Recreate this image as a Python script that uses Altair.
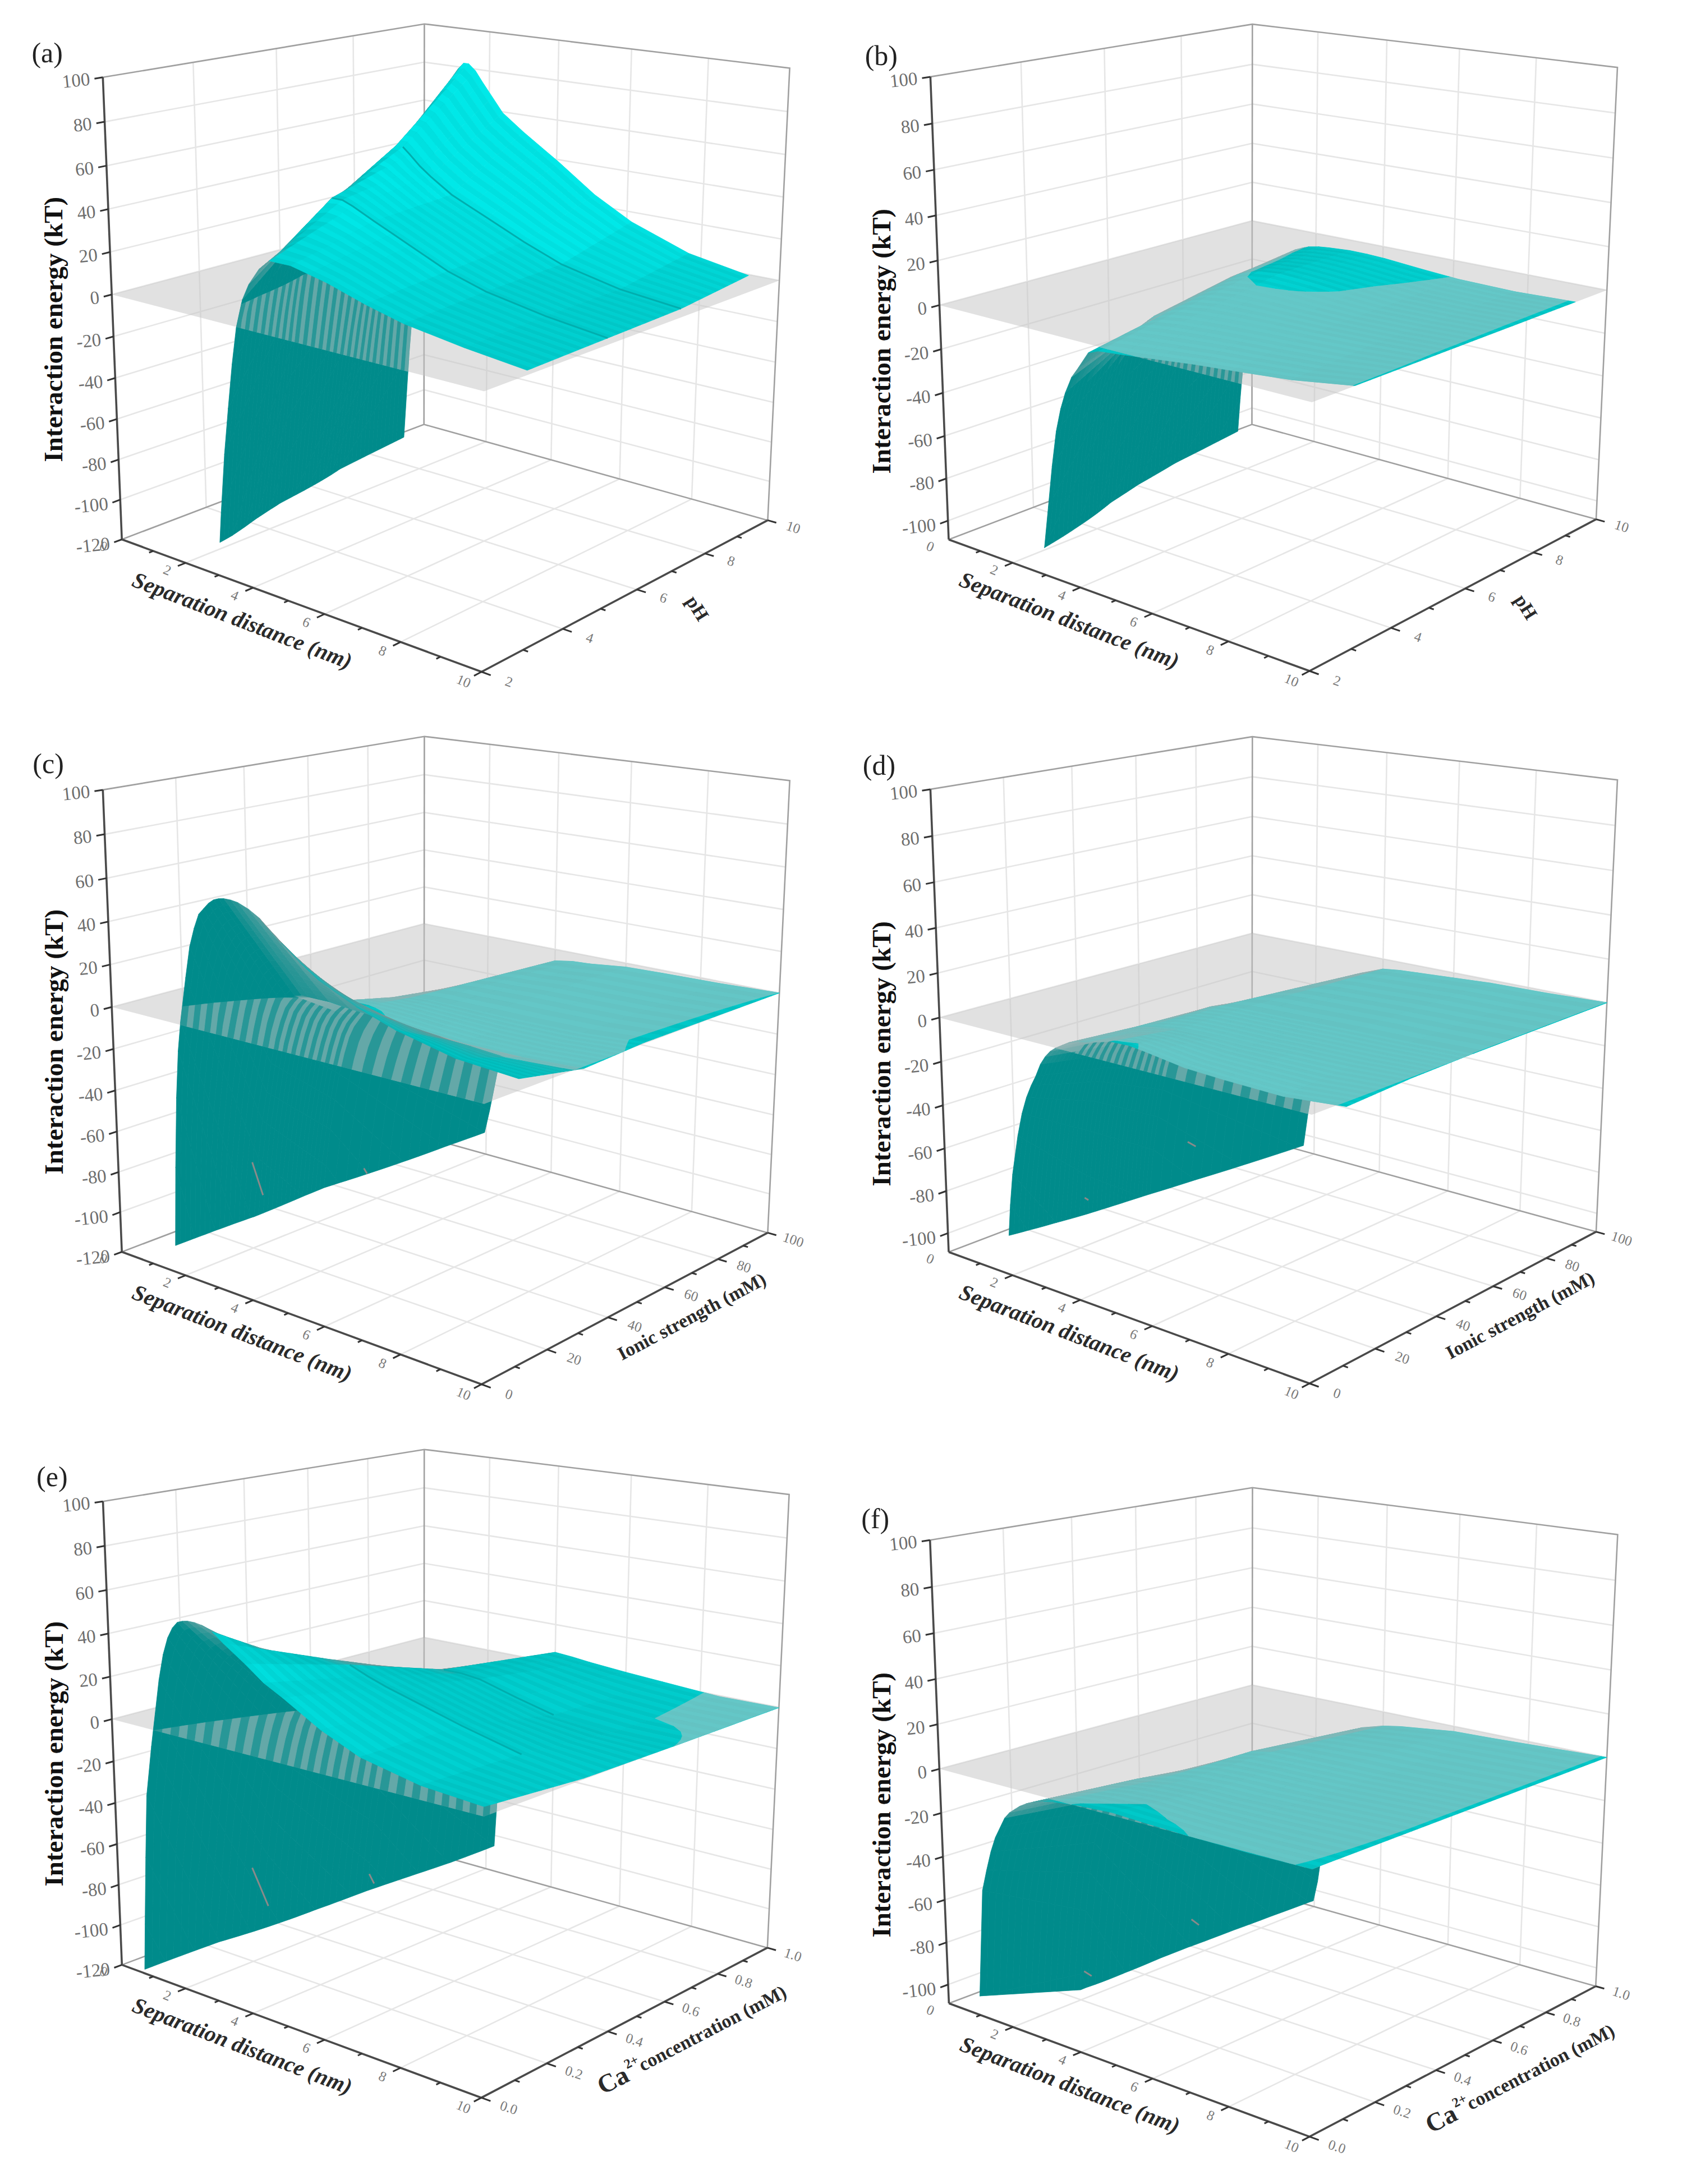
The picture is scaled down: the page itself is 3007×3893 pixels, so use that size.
import numpy as np
import altair as alt

alt.data_transformers.disable_max_rows()

# ---------- data ----------
X_GRID = [0.2, 0.4, 0.6, 0.7, 0.8, 0.9, 1, 1.2, 1.35, 1.5, 1.65, 1.8, 1.95, 2.1, 2.25, 2.4, 2.6, 2.8, 3.1, 3.4, 4, 4.5, 5, 6, 7, 8.5, 10]

PH_SLICES = [3, 5, 7, 9]
IS_SLICES = [10, 30, 50, 100]
CA_SLICES = [0, 0.3, 0.6, 1.0]

A_E = [
    [-600, -500, -400, -360, -320, -290, -260, -210, -185, -165, -140, -105, -75, -52, -30, -12, 2, 10, 18, 23, 23, 21, 19, 13.5, 9, 5, 2],
    [-420, -320, -240, -208, -180, -156, -135, -100, -75, -52, -31, -12, 3, 15, 24, 31, 36, 40, 40, 38, 33, 29, 25, 17, 11.5, 6.5, 3],
    [-250, -170, -120, -104, -90, -77, -65, -40, -25, -10, 5, 20, 32, 42, 50, 55, 55, 52, 47, 43, 36, 32, 28, 20, 13, 7, 4],
    [-200, -125, -70, -48, -28, -10, 6, 25, 38, 50, 62, 72, 80, 85, 88, 88, 85, 80, 73, 66, 58, 52, 46, 33, 23, 13, 8],
]
B_E = [
    [-500, -420, -350, -325, -300, -280, -260, -220, -190, -150, -112, -92, -72, -55, -44, -36, -28, -23, -15, -13, -12, -11, -10, -8, -6.5, -4, 0.1],
    [-400, -320, -250, -220, -190, -160, -135, -108, -84, -62, -46, -35, -27, -22, -18, -15, -12, -10, -7.5, -6, -4.5, -4, -3.5, -3, -2.5, -1.5, 0.1],
    [-300, -220, -160, -135, -110, -90, -70, -45, -35, -28, -22, -18, -14, -11, -9, -7, -4.5, -2.5, -0.5, 1, 2, 1.6, 1, -0.5, -1.5, -1, 0.1],
    [-300, -160, -108, -85, -65, -53, -45, -30, -25, -20, -16, -12, -9, -6, -4, -2, -0.5, 0.8, 1.8, 2.3, 3, 2.9, 2.5, 1, -0.3, -0.8, 0.1],
]
C_E = [
    [-500, -250, -125, -80, -45, -22, -8, 14, 29, 38, 45, 48, 51, 53, 54, 54.5, 54.5, 54, 52, 49, 40, 33, 27, 19, 13, 7, 5],
    [-700, -450, -300, -240, -190, -150, -120, -85, -65, -50, -35, -22, -13, -6, -2, 1, 2, 2, 2, 2, 1, 0.5, 0, -1.5, -2.5, -2.5, -1],
    [-800, -600, -400, -330, -260, -210, -170, -125, -100, -80, -64, -50, -39, -30, -24, -20, -15, -12, -8, -5, -2.5, -2, -2, -2, -2, -1.5, 0.5],
    [-1500, -1000, -700, -600, -500, -430, -360, -290, -240, -200, -163, -130, -108, -95, -80, -65, -50, -40, -26, -15, -6, -4.5, -4, -2, -1.5, -1, 0],
]
D_E = [
    [-500, -300, -170, -135, -108, -88, -73, -54, -43, -35, -29, -24, -18, -14, -11, -9, -7, -5, -3.5, -2.5, 0.2, 0.5, -0.5, -3, -3.8, -4.4, -2],
    [-600, -430, -300, -240, -190, -150, -122, -84, -62, -47, -37, -30, -23, -18, -14, -11, -9, -7, -6, -5, -3.5, -3.2, -3, -3, -2.5, -2, -0.5],
    [-700, -500, -350, -290, -240, -195, -160, -108, -82, -65, -51, -40, -31, -25, -19, -15, -11, -8, -5.5, -4, -3, -2.7, -2.5, -2, -1.5, -1, 0],
    [-900, -700, -500, -440, -380, -330, -285, -215, -165, -135, -108, -88, -72, -60, -50, -42, -33, -25, -15, -9, -5, -4, -3.5, -2.5, -1.5, -1, 0],
]
E_E = [
    [-500, -300, -180, -130, -95, -62, -32, -8, 8, 24, 36, 44, 49, 52, 53, 53.5, 53.5, 53, 51, 47, 40, 33.5, 29, 19, 11.5, 6, 4],
    [-600, -420, -300, -258, -220, -188, -160, -125, -98, -75, -56, -40, -26, -15, -6, 0, 8, 15, 23, 28, 27.5, 24, 21, 16, 11, 4.5, 0.5],
    [-1000, -800, -600, -520, -450, -385, -330, -250, -195, -150, -120, -95, -73, -55, -40, -28, -15, -5, 5, 10, 13, 13, 12, 7, 2.5, 0.3, 0],
    [-1500, -1200, -900, -800, -700, -620, -550, -420, -340, -280, -230, -190, -165, -140, -106, -55, -35, -20, -6, 0, 5.7, 5, 4, 2.5, 1.3, -0.5, -0.2],
]
F_E = [
    [-900, -500, -300, -230, -170, -135, -100, -50, -40, -31, -24, -19, -14, -11, -9, -7, -5, -3.5, -2, -1, 0.2, 0.7, 1.2, 0.5, 0, -0.3, 0.1],
    [-800, -500, -300, -235, -180, -140, -108, -76, -57, -42, -32, -24, -19, -15, -12, -10, -8.5, -7, -6, -5, -3.5, -3, -2.5, -2.5, -2, -1, 0.1],
    [-1000, -700, -500, -420, -350, -295, -250, -170, -130, -108, -80, -62, -48, -38, -30, -24, -17, -12, -8, -5, -3, -2.7, -2.5, -2.2, -2, -1, 0.1],
    [-1500, -1100, -800, -700, -600, -520, -450, -320, -255, -200, -160, -130, -108, -95, -75, -60, -42, -30, -18, -10, -7, -5.5, -4.5, -2.5, -2, -1, 0.1],
]

# lowest drawn energy per slice
A_FLOOR = [-120, -120, -120, -118]
B_FLOOR = [-112, -108, -105, -103]
C_FLOOR = [-120, -116, -112, -108]
D_FLOOR = [-103, -104, -105, -106]
E_FLOOR = [-118, -114, -110, -106]
F_FLOOR = [-100, -116, -110, -106]

# creases drawn on the surface: slice index, first separation
A_CREASES = [(1, 2.8), (2, 2.6)]
E_CREASES = [(1, 4.0), (2, 4.0)]

X_TICKS = [0, 2, 4, 6, 8, 10]
PH_TICKS = [2, 4, 6, 8, 10]
IS_TICKS = [0, 20, 40, 60, 80, 100]
CA_TICKS = [0.0, 0.2, 0.4, 0.6, 0.8, 1.0]
Z_TICKS_120 = list(range(-120, 101, 20))
Z_TICKS_100 = list(range(-100, 101, 20))

INTERACTION = "Interaction energy (kT)"
SEPARATION = "Separation distance (nm)"

# ---------- layout (measured on crops of the reference) ----------
BOX_A = dict(lt=(188, 170), lb=(225, 1187), bt=(790, 52), bb=(790, 935), rt=(1472, 150), rb=(1433, 1142),
             fb=(893, 1480), pl=(215, 648), pb=(790, 465), pr=(1450, 620), pf=(905, 860))
BOX_B = dict(lt=(162, 170), lb=(198, 1187), bt=(765, 52), bb=(765, 935), rt=(1447, 150), rb=(1408, 1142),
             fb=(868, 1478), pl=(188, 670), pb=(765, 487), pr=(1423, 637), pf=(880, 885))
BOX_E = dict(lt=(188, 137), lb=(225, 1108), bt=(790, 27), bb=(790, 870), rt=(1472, 122), rb=(1433, 1070),
             fb=(893, 1390), pl=(215, 597), pb=(790, 420), pr=(1447, 575), pf=(905, 790))
BOX_F = dict(lt=(162, 218), lb=(198, 1190), bt=(765, 108), bb=(765, 950), rt=(1447, 205), rb=(1408, 1150),
             fb=(868, 1470), pl=(188, 698), pb=(765, 520), pr=(1423, 680), pf=(880, 905))

ROW_H = 1568 / 1270
ROW_H3 = 1568 / 1333
COL_W = 1568 / 1500

PANELS = [
    dict(tag="(a)", off=(0, 0), sy=ROW_H, box=BOX_A, slices=PH_SLICES, E=A_E, floor=A_FLOOR, yr=(2, 10), zlo=-120,
         yt=PH_TICKS, fmt="{:d}", ytitle="pH", yang=58, yu=1.145, yx=6, tagpos=(88, 118), creases=A_CREASES, marks=[]),
    dict(tag="(b)", off=(1500, 0), sy=ROW_H, box=BOX_B, slices=PH_SLICES, E=B_E, floor=B_FLOOR, yr=(2, 10), zlo=-109,
         yt=PH_TICKS, fmt="{:d}", ytitle="pH", yang=58, yu=1.145, yx=6, tagpos=(74, 125), creases=[], marks=[]),
    dict(tag="(c)", off=(0, 1270), sy=ROW_H, box=BOX_A, slices=IS_SLICES, E=C_E, floor=C_FLOOR, yr=(0, 100), zlo=-120,
         yt=IS_TICKS, fmt="{:d}", ytitle="Ionic strength (mM)", yang=-28, yu=1.127, yx=51, tagpos=(90, 115), creases=[],
         marks=[[(470, 990), (490, 1062)], [(678, 1003), (684, 1015)]]),
    dict(tag="(d)", off=(1500, 1270), sy=ROW_H, box=BOX_B, slices=IS_SLICES, E=D_E, floor=D_FLOOR, yr=(0, 100), zlo=-109,
         yt=IS_TICKS, fmt="{:d}", ytitle="Ionic strength (mM)", yang=-28, yu=1.127, yx=51, tagpos=(70, 118), creases=[],
         marks=[[(645, 945), (660, 955)], [(453, 1068), (460, 1073)]]),
    dict(tag="(e)", off=(0, 2560), sy=ROW_H3, box=BOX_E, slices=CA_SLICES, E=E_E, floor=E_FLOOR, yr=(0, 1), zlo=-120,
         yt=CA_TICKS, fmt="{:.1f}", ytitle="concentration (mM)", yang=-27.5, yu=1.152, yx=0.548, tagpos=(97, 87),
         creases=E_CREASES, marks=[[(470, 905), (500, 985)], [(688, 918), (697, 938)]], ca=True),
    dict(tag="(f)", off=(1500, 2560), sy=ROW_H3, box=BOX_F, slices=CA_SLICES, E=F_E, floor=F_FLOOR, yr=(0, 1), zlo=-109,
         yt=CA_TICKS, fmt="{:.1f}", ytitle="concentration (mM)", yang=-27.5, yu=1.152, yx=0.548, tagpos=(63, 175),
         creases=[], marks=[[(652, 1013), (666, 1025)], [(452, 1122), (466, 1132)]], ca=True),
]


def to_full(pt, off, sy):
    return (pt[0] / COL_W + off[0], pt[1] / sy + off[1])


def camera(box, off, sy, zlo):
    """Perspective matrix of the 3D box, fitted on its visible corners."""
    w0 = (0 - zlo) / (100 - zlo)
    pairs = [
        ((0, 0, 1), box["lt"]), ((0, 0, 0), box["lb"]), ((0, 1, 1), box["bt"]), ((0, 1, 0), box["bb"]),
        ((1, 1, 1), box["rt"]), ((1, 1, 0), box["rb"]), ((1, 0, 0), box["fb"]),
        ((0, 0, w0), box["pl"]), ((0, 1, w0), box["pb"]), ((1, 1, w0), box["pr"]), ((1, 0, w0), box["pf"]),
    ]
    rows = []
    for (u, v, w), pt in pairs:
        px, py = to_full(pt, off, sy)
        px, py = px / 1000, py / 1000
        rows.append([u, v, w, 1, 0, 0, 0, 0, -px * u, -px * v, -px * w, -px])
        rows.append([0, 0, 0, 0, u, v, w, 1, -py * u, -py * v, -py * w, -py])
    _, _, vt = np.linalg.svd(np.array(rows, float))
    return vt[-1].reshape(3, 4)


def proj(P, u, v, w):
    q = P @ np.array([u, v, w, 1.0])
    return (q[0] / q[2] * 1000, q[1] / q[2] * 1000)


def clip_poly(poly, fn):
    out = []
    n = len(poly)
    for i in range(n):
        a, b = poly[i], poly[(i + 1) % n]
        fa, fb = fn(a), fn(b)
        if fa >= 0:
            out.append(a)
        if (fa >= 0) != (fb >= 0):
            t = fa / (fa - fb)
            out.append(tuple(a[k] + t * (b[k] - a[k]) for k in range(len(a))))
    return out


def area(pts):
    s = 0.0
    for i in range(len(pts)):
        x0, y0 = pts[i]
        x1, y1 = pts[(i + 1) % len(pts)]
        s += x0 * y1 - x1 * y0
    return s / 2


def clip_to_quad(pts, quad):
    sign = 1 if area(quad) > 0 else -1
    out = pts
    for i in range(len(quad)):
        a, b = quad[i], quad[(i + 1) % len(quad)]
        fn = lambda p: sign * ((b[0] - a[0]) * (p[1] - a[1]) - (b[1] - a[1]) * (p[0] - a[0]))
        out = clip_poly(out, fn)
        if len(out) < 3:
            return []
    return out


def mix(c1, c2, t):
    return tuple(c1[k] + (c2[k] - c1[k]) * t for k in range(3))


def hexc(c):
    return "#%02x%02x%02x" % tuple(int(max(0, min(255, round(k)))) for k in c)


def poly_feat(pts, color):
    ring = [[round(p[0], 1), round(p[1], 1)] for p in pts]
    ring.append(ring[0])
    return {"type": "Feature", "geometry": {"type": "Polygon", "coordinates": [ring]}, "properties": {"c": color}}


def line_feat(pts):
    return {"type": "Feature", "geometry": {"type": "LineString",
            "coordinates": [[round(p[0], 1), round(p[1], 1)] for p in pts]}, "properties": {}}


below, under_plane, above, planes = [], [], [], []
grid_lines, frame_lines, axis_lines, tick_lines, crease_lines, mark_lines = [], [], [], [], [], []
z_labels, tick_labels, x_titles, y_titles, z_titles, tags, ca_big, ca_small = [], [], [], [], [], [], [], []

DARK = (0, 139, 139)
GREY = (140, 140, 140)
PLANE_RGB = (196, 196, 196)
PLANE_A = 0.51
V_SUB = 16


def through_plane(c):
    return mix(c, PLANE_RGB, PLANE_A)


for pn in PANELS:
    P = camera(pn["box"], pn["off"], pn["sy"], pn["zlo"])
    zlo = pn["zlo"]
    ymin, ymax = pn["yr"]
    U = lambda x: x / 10.0
    V = lambda y: (y - ymin) / (ymax - ymin)
    W = lambda z: (z - zlo) / (100 - zlo)
    pj = lambda x, y, z: proj(P, U(x), V(y), W(z))

    # walls and floor
    zts = Z_TICKS_120 if zlo == -120 else Z_TICKS_100
    for z in zts:
        if zlo < z < 100:
            grid_lines.append(line_feat([pj(0, ymin, z), pj(0, ymax, z)]))
            grid_lines.append(line_feat([pj(0, ymax, z), pj(10, ymax, z)]))
    for x in X_TICKS[1:-1]:
        grid_lines.append(line_feat([pj(x, ymax, zlo), pj(x, ymax, 100)]))
        grid_lines.append(line_feat([pj(x, ymin, zlo), pj(x, ymax, zlo)]))
    for y in pn["yt"][1:-1]:
        grid_lines.append(line_feat([pj(0, y, zlo), pj(0, y, 100)]))
        grid_lines.append(line_feat([pj(0, y, zlo), pj(10, y, zlo)]))
    frame_lines.append(line_feat([pj(0, ymin, 100), pj(0, ymax, 100), pj(10, ymax, 100), pj(10, ymax, zlo)]))
    frame_lines.append(line_feat([pj(0, ymax, 100), pj(0, ymax, zlo)]))
    frame_lines.append(line_feat([pj(0, ymin, zlo), pj(0, ymax, zlo), pj(10, ymax, zlo)]))

    # zero plane
    plane_quad = [pj(0, ymin, 0), pj(10, ymin, 0), pj(10, ymax, 0), pj(0, ymax, 0)]
    planes.append(poly_feat(plane_quad, "#c4c4c4"))

    # axes
    axis_lines.append(line_feat([pj(0, ymin, 100), pj(0, ymin, zlo)]))
    axis_lines.append(line_feat([pj(0, ymin, zlo), pj(10, ymin, zlo), pj(10, ymax, zlo)]))
    for z in zts:
        a = proj(P, 0, 0, W(z))
        b = proj(P, 0, -0.022, W(z))
        tick_lines.append(line_feat([a, b]))
        q = proj(P, 0, -0.034, W(z))
        z_labels.append({"px": q[0], "py": q[1], "t": str(z)})
    for x in range(1, 11):
        major = x % 2 == 0
        a = proj(P, x / 10, 0, 0)
        b = proj(P, x / 10, -0.022 if major else -0.012, 0)
        tick_lines.append(line_feat([a, b]))
    for x in X_TICKS:
        q = proj(P, x / 10, -0.052, 0)
        tick_labels.append({"px": q[0], "py": q[1], "t": str(x), "a": 23})
    yt = pn["yt"]
    for i, y in enumerate(yt):
        a = proj(P, 1, V(y), 0)
        b = proj(P, 1.022, V(y), 0)
        tick_lines.append(line_feat([a, b]))
        if i < len(yt) - 1:
            mid = (y + yt[i + 1]) / 2
            tick_lines.append(line_feat([proj(P, 1, V(mid), 0), proj(P, 1.012, V(mid), 0)]))
        q = proj(P, 1.065, V(y), 0)
        tick_labels.append({"px": q[0], "py": q[1], "t": pn["fmt"].format(y), "a": 18})

    q = proj(P, 0.5, -0.13, 0)
    x_titles.append({"px": q[0], "py": q[1], "t": SEPARATION})
    q = proj(P, pn["yu"], V(pn["yx"]), 0)
    y_titles.append({"px": q[0], "py": q[1], "t": pn["ytitle"], "a": (pn["yang"] + 360) % 360})
    if pn.get("ca"):
        th = np.radians(-pn["yang"])
        dx, dy = np.cos(th), -np.sin(th)
        nx_, ny_ = -np.sin(th), -np.cos(th)
        ca_big.append({"px": q[0] - dx * 200, "py": q[1] - dy * 200, "t": "Ca", "a": (pn["yang"] + 360) % 360})
        ca_small.append({"px": q[0] - dx * 156 + nx_ * 14, "py": q[1] - dy * 156 + ny_ * 14, "t": "2+",
                         "a": (pn["yang"] + 360) % 360})
    q = proj(P, 0, -0.155, W(-9))
    z_titles.append({"px": q[0], "py": q[1], "t": INTERACTION})
    q = to_full(pn["tagpos"], pn["off"], pn["sy"])
    tags.append({"px": q[0], "py": q[1], "t": pn["tag"]})

    # surface: drawn far to near, split at the zero plane
    sl = pn["slices"]
    table = pn["E"]
    floors = pn["floor"]
    nx = len(X_GRID)

    def floor_at(vv):
        return float(np.interp(vv, [V(s) for s in sl], floors))

    for i in range(len(sl) - 2, -1, -1):
        for k in range(V_SUB - 1, -1, -1):
            t0, t1 = k / V_SUB, (k + 1) / V_SUB
            v0 = V(sl[i]) + t0 * (V(sl[i + 1]) - V(sl[i]))
            v1 = V(sl[i]) + t1 * (V(sl[i + 1]) - V(sl[i]))
            for j in range(nx - 1):
                x0, x1 = X_GRID[j], X_GRID[j + 1]
                e00 = table[i][j] + t0 * (table[i + 1][j] - table[i][j])
                e10 = table[i][j + 1] + t0 * (table[i + 1][j + 1] - table[i][j + 1])
                e01 = table[i][j] + t1 * (table[i + 1][j] - table[i][j])
                e11 = table[i][j + 1] + t1 * (table[i + 1][j + 1] - table[i][j + 1])
                quad = [(x0, v0, e00), (x1, v0, e10), (x1, v1, e11), (x0, v1, e01)]
                drawn = clip_poly(quad, lambda p: p[2] - floor_at(p[1]))
                if len(drawn) < 3:
                    continue
                flat = area([proj(P, U(p[0]), p[1], W(0)) for p in drawn])
                real = area([proj(P, U(p[0]), p[1], W(p[2])) for p in drawn])
                r = real / flat if flat else 1.0
                low = clip_poly(drawn, lambda p: -p[2])
                high = clip_poly(drawn, lambda p: p[2])
                wall = 0.0
                if r < 0:
                    # seen from below: grey while nearly edge-on, dark teal once it is a real wall
                    wall = max(0.0, min(1.0, (-r - 0.5) / 2.5))
                    base = mix((0, 204, 204), GREY, 0.65)
                    c_low = c_high = mix(base, DARK, wall)
                else:
                    grazing = max(0.0, 1 - r / 0.6) * 0.9
                    g = min(228, max(190, 176 + 22 * r))
                    g += 4 if k % 2 else -4
                    c_high = mix((0, g, g), GREY, grazing)
                    gl = min(g, 204)
                    c_low = mix((0, gl, gl), GREY, grazing)
                if len(low) >= 3:
                    pts = [proj(P, U(p[0]), p[1], W(p[2])) for p in low]
                    below.append(poly_feat(pts, hexc(c_low)))
                    inside = clip_to_quad(pts, plane_quad)
                    if len(inside) >= 3:
                        seen = through_plane(c_low)
                        if wall > 0.6 and k % 2 == 0:
                            seen = mix(seen, DARK, 0.6)
                        under_plane.append(poly_feat(inside, hexc(seen)))
                if len(high) >= 3:
                    above.append(poly_feat([proj(P, U(p[0]), p[1], W(p[2])) for p in high], hexc(c_high)))

    for idx, first in pn["creases"]:
        pts = [pj(x, sl[idx], e) for x, e in zip(X_GRID, table[idx]) if x >= first and e > 0.6]
        crease_lines.append(line_feat(pts))
    for m in pn["marks"]:
        mark_lines.append(line_feat([to_full(p, pn["off"], pn["sy"]) for p in m]))

# ---------- chart ----------
PROJ = dict(type="identity", scale=1, translate=[-8, -8])
FONT = "Liberation Serif"


def polys(feats):
    return (alt.Chart(alt.Data(values=feats)).mark_geoshape(strokeWidth=0.8)
            .encode(fill=alt.Fill("properties.c:N", scale=None), stroke=alt.Stroke("properties.c:N", scale=None))
            .project(**PROJ))


def flat_polys(feats, color, opacity):
    return (alt.Chart(alt.Data(values=feats)).mark_geoshape(fill=color, fillOpacity=opacity, strokeWidth=0)
            .project(**PROJ))


def lines(feats, color, width):
    return (alt.Chart(alt.Data(values=feats)).mark_geoshape(filled=False, stroke=color, strokeWidth=width)
            .project(**PROJ))


def texts(rows, angle=None, **mk):
    enc = dict(longitude="px:Q", latitude="py:Q", text="t:N")
    if angle is None:
        enc["angle"] = alt.Angle("a:Q", scale=None)
    else:
        mk["angle"] = angle
    return alt.Chart(alt.Data(values=rows)).mark_text(font=FONT, baseline="middle", **mk).encode(**enc).project(**PROJ)


chart = alt.layer(
    lines(grid_lines, "#e6e6e6", 2.6),
    lines(frame_lines, "#a0a0a0", 2.6),
    polys(below),
    flat_polys(planes, "#c4c4c4", PLANE_A),
    polys(under_plane),
    polys(above),
    lines(crease_lines, "#00aeae", 3),
    lines(mark_lines, "#8a8a8a", 3),
    lines(axis_lines, "#4a4a4a", 3.6),
    lines(tick_lines, "#333333", 3),
    texts(z_labels, angle=354, fontSize=33, align="right", color="#6e6e6e"),
    texts(tick_labels, fontSize=25, align="center", color="#7a7a7a"),
    texts(x_titles, angle=21, fontSize=40, fontWeight="bold", fontStyle="italic", align="center", color="#2a2a2a"),
    texts(y_titles, fontSize=34, fontWeight="bold", align="center", color="#2a2a2a"),
    texts(ca_big, fontSize=46, fontWeight="bold", align="center", color="#2a2a2a"),
    texts(ca_small, fontSize=24, fontWeight="bold", align="center", color="#2a2a2a"),
    texts(z_titles, angle=270, fontSize=47, fontWeight="bold", align="center", color="#111111"),
    texts(tags, angle=0, fontSize=50, align="center", color="#222222"),
).properties(width=2991, height=3877, padding=0).configure_view(stroke=None)

chart.save("out.html", embed_options={"renderer": "svg", "actions": False})
